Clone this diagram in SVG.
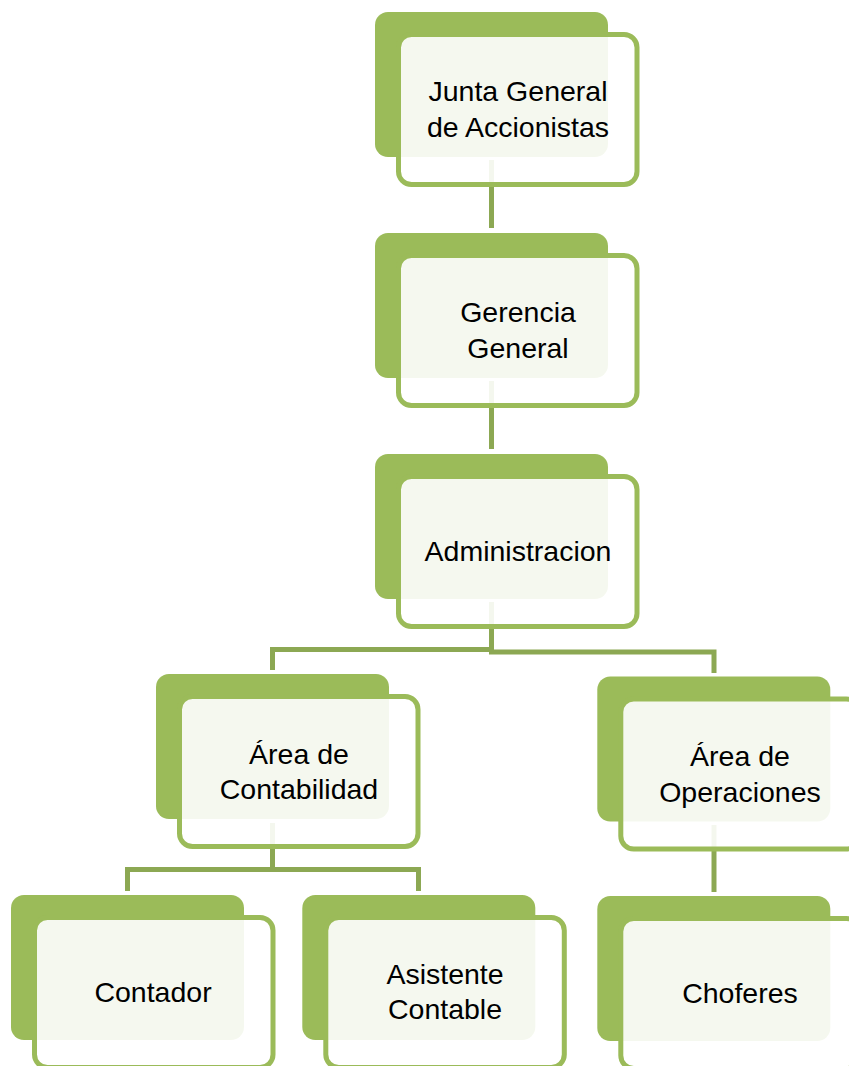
<svg xmlns="http://www.w3.org/2000/svg" width="849" height="1066" viewBox="0 0 849 1066">
<style>
.back{fill:#9BBB59}
.front{fill:#FFFFFF;fill-opacity:0.9;stroke:#9BBB59;stroke-width:5}
.conn{fill:none;stroke:#8CA853;stroke-width:5;stroke-linejoin:miter}
text{font-family:"Liberation Sans",Arial,sans-serif;font-size:28.5px;fill:#000;text-anchor:middle}
</style>
<rect width="849" height="1066" fill="#FFFFFF"/>
<g id="connectors">
<path class="conn" d="M491.5 160 V228"/>
<path class="conn" d="M491.5 381 V449"/>
<path class="conn" d="M491.5 602 V649.5 H272.5 V670"/>
<path class="conn" d="M491.5 602 V652 H714 V673"/>
<path class="conn" d="M272.5 823 V869.5 H127.5 V891"/>
<path class="conn" d="M272.5 823 V869.5 H418.5 V891"/>
<path class="conn" d="M714 825 V892"/>
</g>
<g id="n1">
<rect class="back" x="375" y="12" width="233" height="145" rx="13"/>
<rect class="front" x="398.5" y="34.5" width="238.5" height="150" rx="13"/>
<text x="518" y="101">Junta General</text>
<text x="518" y="137">de Accionistas</text>
</g>
<g id="n2">
<rect class="back" x="375" y="233" width="233" height="145" rx="13"/>
<rect class="front" x="398.5" y="255.5" width="238.5" height="150" rx="13"/>
<text x="518" y="322">Gerencia</text>
<text x="518" y="358">General</text>
</g>
<g id="n3">
<rect class="back" x="375" y="454" width="233" height="145" rx="13"/>
<rect class="front" x="398.5" y="476.5" width="238.5" height="150" rx="13"/>
<text x="518" y="560.5">Administracion</text>
</g>
<g id="n4">
<rect class="back" x="156" y="674" width="233" height="145" rx="13"/>
<rect class="front" x="179.5" y="696.5" width="238.5" height="150" rx="13"/>
<text x="299" y="764">Área de</text>
<text x="299" y="798.5">Contabilidad</text>
</g>
<g id="n5">
<rect class="back" x="597.3" y="676.5" width="233" height="145" rx="13"/>
<rect class="front" x="620.8" y="699" width="238.5" height="150" rx="13"/>
<text x="740" y="766">Área de</text>
<text x="740" y="801.5">Operaciones</text>
</g>
<g id="n6">
<rect class="back" x="11" y="895" width="233" height="145" rx="13"/>
<rect class="front" x="34.5" y="917.5" width="238.5" height="150" rx="13"/>
<text x="153" y="1002">Contador</text>
</g>
<g id="n7">
<rect class="back" x="302.3" y="895" width="233" height="145" rx="13"/>
<rect class="front" x="325.8" y="917.5" width="238.5" height="150" rx="13"/>
<text x="445" y="984">Asistente</text>
<text x="445" y="1018.5">Contable</text>
</g>
<g id="n8">
<rect class="back" x="597.3" y="896" width="233" height="145" rx="13"/>
<rect class="front" x="620.8" y="918.5" width="238.5" height="150" rx="13"/>
<text x="740" y="1002.5">Choferes</text>
</g>
</svg>
